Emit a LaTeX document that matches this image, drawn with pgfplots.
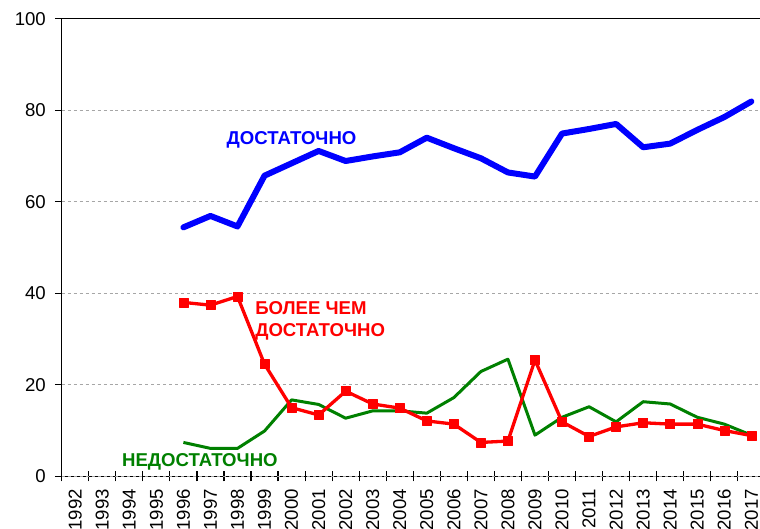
\documentclass[border=0pt]{standalone}
\usepackage{pgfplots}
\pgfplotsset{compat=1.18}
\usepackage{fontspec}
\setmainfont{Liberation Sans}
\definecolor{cblue}{RGB}{0,0,255}
\definecolor{cred}{RGB}{255,0,0}
\definecolor{cgreen}{RGB}{0,128,0}
\pgfplotstableread{
x blue red green
4 54.4 38.0 7.4
5 56.9 37.4 6.1
6 54.6 39.3 6.1
7 65.7 24.5 9.9
8 68.4 15.0 16.7
9 71.1 13.4 15.7
10 68.9 18.6 12.7
11 69.9 15.8 14.3
12 70.8 14.9 14.3
13 74.0 12.1 13.8
14 71.7 11.4 17.2
15 69.5 7.4 22.9
16 66.4 7.7 25.6
17 65.5 25.4 9.0
18 74.9 11.9 12.9
19 75.9 8.7 15.2
20 77.0 10.8 11.9
21 71.9 11.7 16.3
22 72.7 11.4 15.8
23 75.7 11.4 12.9
24 78.5 10.0 11.4
25 81.9 8.9 9.0
}\datatable
\begin{document}
\begin{tikzpicture}
\begin{axis}[
  scale only axis, width=698.3bp, height=457.6bp,
  xmin=-0.5, xmax=25.32, ymin=0, ymax=100,
  axis x line*=bottom, axis y line*=left,
  axis line style={line width=1.3bp, black},
  tick align=center,
  major tick length=10bp,
  tick style={line width=1.2bp, black},
  xtick={-0.5,0.5,1.5,2.5,3.5,4.5,5.5,6.5,7.5,8.5,9.5,10.5,11.5,12.5,13.5,14.5,15.5,16.5,17.5,18.5,19.5,20.5,21.5,22.5,23.5,24.5},
  xticklabels={},
  ytick=\empty,
  extra x ticks={0,...,25},
  extra x tick labels={1992,1993,1994,1995,1996,1997,1998,1999,2000,2001,2002,2003,2004,2005,2006,2007,2008,2009,2010,2011,2012,2013,2014,2015,2016,2017},
  extra x tick style={grid=none, major tick length=0pt},
  extra y ticks={0,20,40,60,80,100},
  extra y tick style={grid=major, tick align=outside, major tick length=6.7bp},
  grid style={dashed, gray!70, line width=0.8bp},
  ticklabel style={font=\fontsize{18.67}{20}\selectfont},
  /pgf/number format/assume math mode=true,
  x tick label style={rotate=90, anchor=east, inner sep=0pt, xshift=-12.5bp},
  y tick label style={anchor=east, inner sep=0pt, xshift=-9bp},
  clip=false,
]
\coordinate (ll) at (rel axis cs:0,0);
\coordinate (ur) at (rel axis cs:1,1);
\draw[black, line width=1.3bp] (rel axis cs:0,1) -- (rel axis cs:1,1);
\addplot[cgreen, line width=3bp, line join=round] table[x=x,y=green]{\datatable};
\addplot[cred, line width=3.3bp, line join=round, mark=square*, mark size=4.5bp, mark options={solid, line width=0.5bp}] table[x=x,y=red]{\datatable};
\addplot[cblue, line width=6bp, line join=round, line cap=round] table[x=x,y=blue]{\datatable};
\node[cblue, anchor=base, font=\fontsize{18.67}{20}\selectfont\bfseries, inner sep=0pt] at (axis cs:8.0,72.4) {ДОСТАТОЧНО};
\node[cred, anchor=base west, font=\fontsize{18.67}{20}\selectfont\bfseries, inner sep=0pt] at (axis cs:6.65,35.3) {БОЛЕЕ ЧЕМ};
\node[cred, anchor=base west, font=\fontsize{18.67}{20}\selectfont\bfseries, inner sep=0pt] at (axis cs:6.65,30.55) {ДОСТАТОЧНО};
\node[cgreen, anchor=base, font=\fontsize{18.67}{20}\selectfont\bfseries, inner sep=0pt] at (axis cs:4.61,2.1) {НЕДОСТАТОЧНО};
\end{axis}
\pgfresetboundingbox
\path[use as bounding box] ([xshift=-61.7bp,yshift=-52.7bp]ll) rectangle ([yshift=18.7bp]ur);
\end{tikzpicture}
\end{document}
